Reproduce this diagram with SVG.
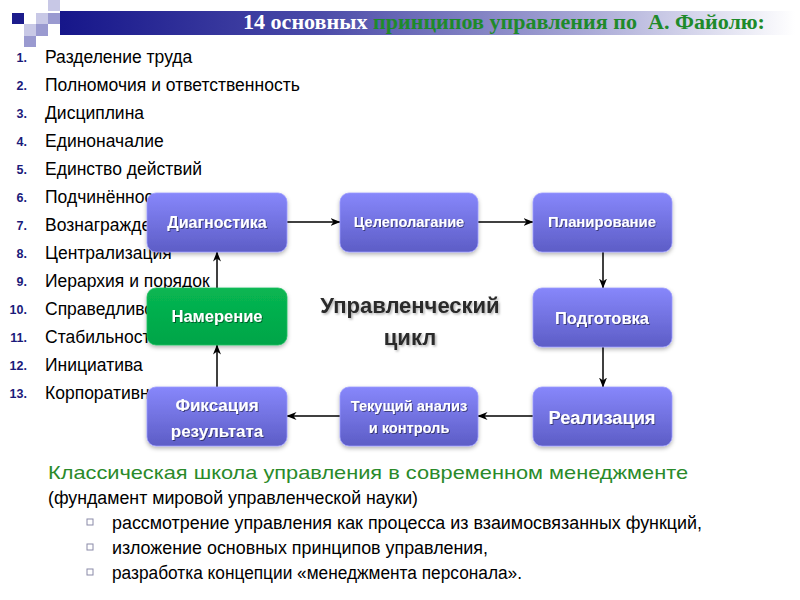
<svg xmlns="http://www.w3.org/2000/svg" width="800" height="600" viewBox="0 0 800 600">
<defs>
<linearGradient id="banner" x1="0" y1="0" x2="1" y2="0">
<stop offset="0" stop-color="#16168a"/>
<stop offset="0.35" stop-color="#4a4aa8"/>
<stop offset="0.7" stop-color="#a4a4d4"/>
<stop offset="1" stop-color="#ffffff"/>
</linearGradient>
<linearGradient id="purple" x1="0" y1="0" x2="0" y2="1">
<stop offset="0" stop-color="#8787fb"/>
<stop offset="1" stop-color="#5d5dc6"/>
</linearGradient>
<linearGradient id="green" x1="0" y1="0" x2="0" y2="1">
<stop offset="0" stop-color="#08b652"/>
<stop offset="1" stop-color="#00a548"/>
</linearGradient>
<filter id="shadow" x="-10%" y="-10%" width="120%" height="130%">
<feDropShadow dx="0" dy="2" stdDeviation="2" flood-color="#000" flood-opacity="0.3"/>
</filter>
<filter id="tshadow" x="-5%" y="-20%" width="110%" height="150%">
<feDropShadow dx="1" dy="1" stdDeviation="0.6" flood-color="#000" flood-opacity="0.45"/>
</filter>
<filter id="cshadow" x="-5%" y="-20%" width="110%" height="150%">
<feDropShadow dx="1.5" dy="1.5" stdDeviation="1" flood-color="#000" flood-opacity="0.3"/>
</filter>
<marker id="arr" viewBox="0 0 10 8" refX="9.5" refY="4" markerWidth="10" markerHeight="8" markerUnits="userSpaceOnUse" orient="auto">
<path d="M0,0 L10,4 L0,8 L3,4 z" fill="#000"/>
</marker>
</defs>
<style>
.list{font-family:"Liberation Sans",Arial,sans-serif;font-size:17.5px;fill:#000}
.num{font-family:"Liberation Sans",Arial,sans-serif;font-size:12.5px;font-weight:bold;fill:#1a1a7a;text-anchor:end}
.box{fill:url(#purple);stroke:#9a9aff;stroke-width:0.8;filter:url(#shadow)}
.gbox{fill:url(#green);stroke:#20c060;stroke-width:0.8;filter:url(#shadow)}
.nt{font-family:"Liberation Sans",Arial,sans-serif;font-weight:bold;fill:#fff;text-anchor:middle;filter:url(#tshadow)}
.conn{stroke:#000;stroke-width:1.5;fill:none;marker-end:url(#arr)}
.bt{font-family:"Liberation Sans",Arial,sans-serif;font-size:18px;fill:#000}
.sq{fill:none;stroke:#8a8aa8;stroke-width:1}
</style>
<rect width="800" height="600" fill="#fff"/>
<g id="decor">
<rect x="60" y="11" width="735" height="24" fill="url(#banner)"/>
<rect x="48" y="0" width="12" height="11" fill="#c8c8e6"/>
<rect x="12" y="13" width="12" height="11" fill="#1c1c8c"/>
<rect x="36" y="13" width="12" height="11" fill="#c8c8e6"/>
<rect x="48" y="13" width="12" height="11" fill="#9a9ad0"/>
<rect x="24" y="24" width="12" height="12" fill="#c8c8e6"/>
<rect x="36" y="24" width="12" height="12" fill="#9a9ad0"/>
<rect x="24" y="36" width="12" height="11" fill="#9a9ad0"/>
</g>
<text id="title" x="243" y="29" xml:space="preserve" font-family="Liberation Serif,Times New Roman,serif" font-weight="bold" font-size="20" textLength="522" lengthAdjust="spacingAndGlyphs"><tspan fill="#ffffff">14 основных </tspan><tspan fill="#1e8a2a">принципов управления по  А. Файолю:</tspan></text>
<g id="list">
<text class="num" x="27" y="62">1.</text><text class="list" x="45" y="63">Разделение труда</text>
<text class="num" x="27" y="90">2.</text><text class="list" x="45" y="91">Полномочия и ответственность</text>
<text class="num" x="27" y="118">3.</text><text class="list" x="45" y="119">Дисциплина</text>
<text class="num" x="27" y="146">4.</text><text class="list" x="45" y="147">Единоначалие</text>
<text class="num" x="27" y="174">5.</text><text class="list" x="45" y="175">Единство действий</text>
<text class="num" x="27" y="202">6.</text><text class="list" x="45" y="203">Подчинённос</text>
<text class="num" x="27" y="230">7.</text><text class="list" x="45" y="231">Вознагражде</text>
<text class="num" x="27" y="258">8.</text><text class="list" x="45" y="259">Централизация</text>
<text class="num" x="27" y="286">9.</text><text class="list" x="45" y="287">Иерархия и порядок</text>
<text class="num" x="27" y="314">10.</text><text class="list" x="45" y="315">Справедливо</text>
<text class="num" x="27" y="342">11.</text><text class="list" x="45" y="343">Стабильност</text>
<text class="num" x="27" y="370">12.</text><text class="list" x="45" y="371">Инициатива</text>
<text class="num" x="27" y="398">13.</text><text class="list" x="45" y="399">Корпоративн</text>
</g>
<text id="center-label" font-family="Liberation Sans,Arial,sans-serif" font-weight="bold" font-size="22" fill="#2a2a2a" text-anchor="middle" filter="url(#cshadow)"><tspan x="410" y="313">Управленческий</tspan><tspan x="410" y="345">цикл</tspan></text>
<g id="connectors">
<line class="conn" x1="287" y1="222" x2="340" y2="222"/>
<line class="conn" x1="478" y1="222" x2="533" y2="222"/>
<line class="conn" x1="603" y1="252" x2="603" y2="288"/>
<line class="conn" x1="603" y1="347" x2="603" y2="387"/>
<line class="conn" x1="533" y1="416" x2="478" y2="416"/>
<line class="conn" x1="340" y1="416" x2="287" y2="416"/>
<line class="conn" x1="217" y1="387" x2="217" y2="345"/>
<line class="conn" x1="217" y1="288" x2="217" y2="252"/>
</g>
<g id="n-diagnostika"><rect class="box" x="147" y="193" width="140" height="59" rx="9"/><text class="nt" x="217" y="228" font-size="16">Диагностика</text></g>
<g id="n-celepolaganie"><rect class="box" x="340" y="193" width="138" height="59" rx="9"/><text class="nt" x="409" y="227" font-size="14.5">Целеполагание</text></g>
<g id="n-planirovanie"><rect class="box" x="533" y="193" width="139" height="59" rx="9"/><text class="nt" x="602" y="227" font-size="14.8">Планирование</text></g>
<g id="n-namerenie"><rect class="gbox" x="147" y="288" width="140" height="57" rx="9"/><text class="nt" x="217" y="322" font-size="16.5">Намерение</text></g>
<g id="n-podgotovka"><rect class="box" x="533" y="288" width="139" height="59" rx="9"/><text class="nt" x="602" y="324" font-size="16.5">Подготовка</text></g>
<g id="n-fiksaciya"><rect class="box" x="147" y="387" width="140" height="59" rx="9"/><text class="nt" font-size="17"><tspan x="217" y="411">Фиксация</tspan><tspan x="217" y="437">результата</tspan></text></g>
<g id="n-tekushchiy"><rect class="box" x="340" y="387" width="138" height="59" rx="9"/><text class="nt" font-size="14.6"><tspan x="409" y="411">Текущий анализ</tspan><tspan x="409" y="433">и контроль</tspan></text></g>
<g id="n-realizaciya"><rect class="box" x="533" y="387" width="139" height="59" rx="9"/><text class="nt" x="602" y="424" font-size="18.3">Реализация</text></g>
<g id="bottom">
<text x="48" y="479" font-family="Liberation Sans,Arial,sans-serif" font-size="18.5" fill="#2a8a2a" textLength="640" lengthAdjust="spacingAndGlyphs">Классическая школа управления в современном менеджменте</text>
<text class="bt" x="48" y="504" textLength="370" lengthAdjust="spacingAndGlyphs">(фундамент мировой управленческой науки)</text>
<rect class="sq" x="87" y="519" width="6" height="6"/>
<text class="bt" x="112" y="529" textLength="590" lengthAdjust="spacingAndGlyphs">рассмотрение управления как процесса из взаимосвязанных функций,</text>
<rect class="sq" x="87" y="544" width="6" height="6"/>
<text class="bt" x="112" y="554" textLength="376" lengthAdjust="spacingAndGlyphs">изложение основных принципов управления,</text>
<rect class="sq" x="87" y="569" width="6" height="6"/>
<text class="bt" x="112" y="579" textLength="410" lengthAdjust="spacingAndGlyphs">разработка концепции «менеджмента персонала».</text>
</g>
</svg>
